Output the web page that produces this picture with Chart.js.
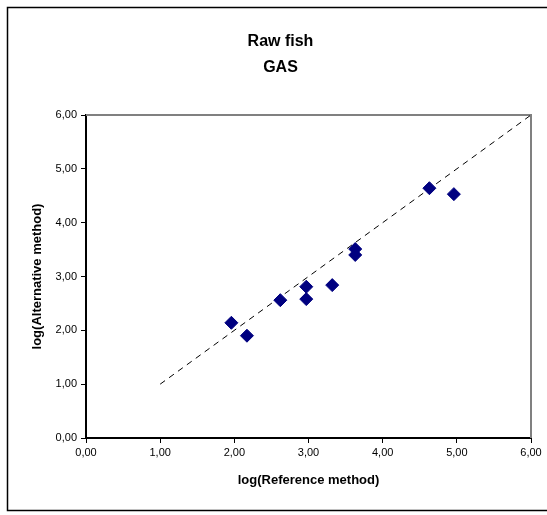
<!DOCTYPE html>
<html>
<head>
<meta charset="utf-8">
<script src="https://cdn.jsdelivr.net/npm/chart.js@4.4.1/dist/chart.umd.min.js"></script>
<style>
  html, body { margin: 0; padding: 0; background: #fff; }
  #wrap { width: 547px; height: 515px; }
</style>
</head>
<body>
<div id="wrap"><canvas id="fishChart" width="547" height="515"></canvas></div>
<script>
// --- Datos ---
const refMethod = [1.96, 2.17, 2.62, 2.97, 2.97, 3.32, 3.63, 3.63, 4.63, 4.96];
const altMethod = [2.14, 1.90, 2.56, 2.81, 2.58, 2.84, 3.51, 3.40, 4.64, 4.53];
const lineX = [1, 6];
const lineY = [1, 6];
const titleLines = ['Raw fish', 'GAS'];

const points = refMethod.map((x, i) => ({ x: x, y: altMethod[i] }));
const diagonal = lineX.map((x, i) => ({ x: x, y: lineY[i] }));

const fmt = v => Number(v).toFixed(2).replace('.', ',');

// borde exterior (el lado derecho queda fuera de la imagen) + bordes gris arriba/derecha
const framePlugin = {
    id: 'frame',
    beforeDraw(chart) {
        const ctx = chart.ctx;
        ctx.save();
        ctx.fillStyle = '#fff';
        ctx.fillRect(0, 0, chart.width, chart.height);
        ctx.strokeStyle = '#000';
        ctx.lineWidth = 1.5;
        ctx.strokeRect(7.5, 7.5, 545, 503);
        ctx.restore();
    },
    beforeDatasetsDraw(chart) {
        const a = chart.chartArea, ctx = chart.ctx;
        ctx.save();
        ctx.strokeStyle = '#808080';
        ctx.lineWidth = 2;
        ctx.beginPath();
        ctx.moveTo(a.left, a.top);
        ctx.lineTo(a.right, a.top);
        ctx.lineTo(a.right, a.bottom);
        ctx.stroke();
        ctx.restore();
    }
};

const axisFont = { family: 'Arial, "Liberation Sans", sans-serif', size: 11 };
const titleFont = { family: 'Arial, "Liberation Sans", sans-serif', size: 13, weight: 'bold' };

new Chart(document.getElementById('fishChart').getContext('2d'), {
    type: 'scatter',
    data: {
        datasets: [
            {
                label: 'Muestras',
                data: points,
                order: 0,
                pointStyle: 'rectRot',
                pointRadius: 6.5,
                pointBackgroundColor: '#000080',
                pointBorderColor: '#000080',
                pointBorderWidth: 1
            },
            {
                label: 'y = x',
                type: 'line',
                data: diagonal,
                order: 1,
                borderColor: '#000',
                borderWidth: 1,
                borderDash: [6, 5],
                pointRadius: 0,
                fill: false
            }
        ]
    },
    options: {
        responsive: false,
        animation: false,
        layout: { padding: { left: 30, right: 16, top: 0, bottom: 27 } },
        plugins: {
            legend: { display: false },
            tooltip: { enabled: false },
            title: {
                display: true,
                text: titleLines,
                color: '#000',
                font: { family: 'Arial, "Liberation Sans", sans-serif', size: 16, weight: 'bold', lineHeight: 1.625 },
                padding: { top: 29, bottom: 34 }
            }
        },
        scales: {
            x: {
                type: 'linear',
                min: 0, max: 6,
                ticks: { stepSize: 1, color: '#000', font: axisFont, padding: 3, callback: fmt, maxRotation: 0 },
                grid: { drawOnChartArea: false, drawTicks: true, tickLength: 5, color: '#000' },
                border: { display: true, color: '#000', width: 2 },
                title: { display: true, text: 'log(Reference method)', color: '#000', font: titleFont, padding: 0 },
                afterFit: s => { s.height = 50; }
            },
            y: {
                type: 'linear',
                min: 0, max: 6,
                ticks: { stepSize: 1, color: '#000', font: axisFont, padding: 4, callback: fmt },
                grid: { drawOnChartArea: false, drawTicks: true, tickLength: 5, color: '#000' },
                border: { display: true, color: '#000', width: 2 },
                title: { display: true, text: 'log(Alternative method)', color: '#000', font: titleFont, padding: 0 },
                afterFit: s => { s.width = 56; }
            }
        }
    },
    plugins: [framePlugin]
});
</script>
</body>
</html>
